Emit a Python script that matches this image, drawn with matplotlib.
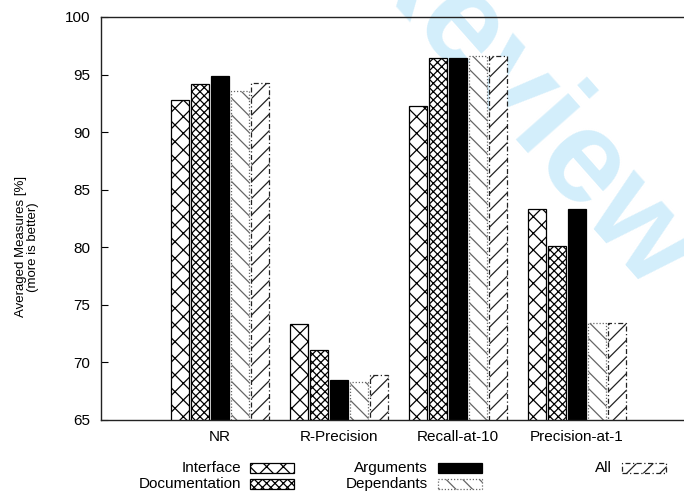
import numpy as np
import matplotlib.pyplot as plt
from matplotlib.patches import Rectangle

plt.rcParams["font.family"] = ["Liberation Sans", "DejaVu Sans"]
plt.rcParams["hatch.linewidth"] = 0.9

metrics = ["NR", "R-Precision", "Recall-at-10", "Precision-at-1"]
series = ["Interface", "Documentation", "Arguments", "Dependants", "All"]
interface = [92.8, 73.3, 92.3, 83.3]
documentation = [94.2, 71.1, 96.4, 80.1]
arguments = [94.9, 68.5, 96.4, 83.3]
dependants = [93.6, 68.3, 96.6, 73.4]
all_features = [94.3, 68.9, 96.6, 73.4]
yticks = [65, 70, 75, 80, 85, 90, 95, 100]

values = [interface, documentation, arguments, dependants, all_features]
# gnuplot-like fill patterns, one per series
styles = [
    dict(facecolor="white", edgecolor="black", hatch="xx", linestyle="-"),
    dict(facecolor="white", edgecolor="black", hatch="xxxx", linestyle="-"),
    dict(facecolor="black", edgecolor="black", hatch=None, linestyle="-"),
    dict(facecolor="white", edgecolor="#666666", hatch="\\\\", linestyle=(0, (1, 1.5))),
    dict(facecolor="white", edgecolor="#222222", hatch="//", linestyle=(0, (4, 2, 1, 2))),
]

fig = plt.figure(figsize=(6.84, 4.94), dpi=100)
ax = fig.add_axes([0.1477, 0.1498, 0.8698, 0.8158])
ax.set_facecolor("none")

# faint watermark, drawn underneath the axes
fig.text(0.762, 0.785, "Review", fontsize=95, fontweight="bold", color="#d3eefb",
         rotation=-48.5, ha="center", va="center", zorder=-1)

x = np.arange(1, len(metrics) + 1)
step = 0.168
width = 0.156
for i, (vals, st) in enumerate(zip(values, styles)):
    ax.bar(x + (i - 2) * step, vals, width=width, bottom=0, linewidth=0.9, zorder=2, **st)

ax.set_xlim(0, 5)
ax.set_ylim(65, 100)
ax.set_xticks(x)
ax.set_xticklabels(metrics, fontsize=11)
ax.set_yticks(yticks)
ax.set_yticklabels([str(t) for t in yticks], fontsize=11)
ax.tick_params(axis="y", direction="in", length=5, width=0.8, pad=8)
ax.tick_params(axis="x", length=0, pad=7)
for sp in ax.spines.values():
    sp.set_linewidth(1.0)
    sp.set_color("#222222")

ax.set_ylabel("Averaged Measures [%]\n(more is better)", fontsize=9.5, linespacing=1.0)
ax.yaxis.set_label_coords(-0.105, 0.43)

# key laid out in three columns under the axes, label to the left of its swatch
key_x = [0.366, 0.640, 0.909]
key_y = [0.052, 0.020]
for i, (name, st) in enumerate(zip(series, styles)):
    col, row = divmod(i, 2)
    sx = key_x[col]
    sy = key_y[row]
    fig.text(sx - 0.014, sy, name, fontsize=11, ha="right", va="center")
    fig.patches.append(Rectangle((sx, sy - 0.01), 0.064, 0.02, transform=fig.transFigure,
                                 figure=fig, linewidth=0.9, **st))

fig.savefig("out.png", dpi=100)
